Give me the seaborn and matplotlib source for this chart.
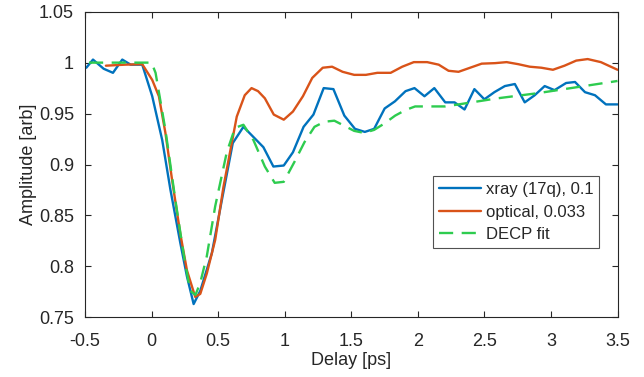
import numpy as np
import pandas as pd
import matplotlib
matplotlib.use("Agg")
import matplotlib.pyplot as plt
import seaborn as sns

xray_x = [-0.49, -0.44, -0.36, -0.29, -0.22, -0.157, -0.07, 0.005, 0.08, 0.142, 0.216, 0.266,
          0.316, 0.366, 0.453, 0.528, 0.61, 0.69, 0.84, 0.915, 0.993, 1.062, 1.142, 1.216,
          1.293, 1.366, 1.448, 1.528, 1.602, 1.672, 1.751, 1.828, 1.908, 1.975, 2.05, 2.124,
          2.206, 2.276, 2.351, 2.425, 2.5, 2.575, 2.654, 2.729, 2.803, 2.878, 2.953, 3.027,
          3.114, 3.181, 3.256, 3.331, 3.413, 3.5]
xray_y = [0.995, 1.003, 0.994, 0.990, 1.003, 0.998, 0.998, 0.967, 0.924, 0.875, 0.823, 0.790,
          0.763, 0.776, 0.813, 0.865, 0.921, 0.937, 0.917, 0.898, 0.899, 0.912, 0.937, 0.949,
          0.975, 0.974, 0.948, 0.935, 0.932, 0.935, 0.955, 0.962, 0.972, 0.975, 0.967, 0.975,
          0.961, 0.961, 0.954, 0.974, 0.964, 0.971, 0.977, 0.979, 0.961, 0.968, 0.977, 0.973,
          0.980, 0.981, 0.971, 0.968, 0.959, 0.959]

opt_x = [-0.343, -0.2, -0.07, 0.005, 0.055, 0.104, 0.154, 0.216, 0.266, 0.328, 0.366, 0.415,
         0.478, 0.54, 0.64, 0.70, 0.751, 0.80, 0.851, 0.918, 0.993, 1.062, 1.137, 1.207,
         1.286, 1.356, 1.435, 1.522, 1.61, 1.696, 1.796, 1.883, 1.97, 2.07, 2.157, 2.231,
         2.306, 2.393, 2.48, 2.58, 2.667, 2.754, 2.841, 2.928, 3.015, 3.102, 3.19, 3.276,
         3.375, 3.475, 3.5]
opt_y = [0.997, 0.998, 0.9985, 0.983, 0.967, 0.931, 0.885, 0.832, 0.796, 0.770, 0.773, 0.793,
         0.826, 0.878, 0.947, 0.968, 0.975, 0.972, 0.965, 0.949, 0.944, 0.952, 0.967, 0.985,
         0.995, 0.996, 0.991, 0.988, 0.988, 0.990, 0.990, 0.996, 1.0005, 1.0005, 0.998, 0.992,
         0.991, 0.995, 0.999, 0.9995, 1.0005, 0.9985, 0.996, 0.995, 0.993, 0.997, 1.002, 1.0035,
         1.0005, 0.9945, 0.993]

fit_x = [-0.47, 0.0, 0.03, 0.104, 0.179, 0.241, 0.29, 0.33, 0.366, 0.415, 0.478, 0.565,
         0.627, 0.69, 0.765, 0.851, 0.925, 0.993, 1.075, 1.149, 1.224, 1.299, 1.373, 1.448,
         1.522, 1.597, 1.672, 1.746, 1.83, 1.908, 1.98, 2.08, 2.206, 2.306, 2.6, 2.9, 3.2, 3.5]
fit_y = [1.0, 1.0, 0.99, 0.934, 0.865, 0.812, 0.776, 0.772, 0.784, 0.810, 0.859, 0.912,
         0.936, 0.939, 0.924, 0.898, 0.882, 0.883, 0.903, 0.922, 0.937, 0.942, 0.943, 0.938,
         0.933, 0.931, 0.934, 0.940, 0.948, 0.9535, 0.957, 0.957, 0.957, 0.959, 0.965, 0.970, 0.976, 0.982]

x_ticks = [-0.5, 0, 0.5, 1, 1.5, 2, 2.5, 3, 3.5]
x_ticklabels = ["-0.5", "0", "0.5", "1", "1.5", "2", "2.5", "3", "3.5"]
y_ticks = [0.75, 0.8, 0.85, 0.9, 0.95, 1.0, 1.05]
y_ticklabels = ["0.75", "0.8", "0.85", "0.9", "0.95", "1", "1.05"]

sns.set_style("ticks")
plt.rcParams['font.family'] = ['Liberation Sans', 'DejaVu Sans']

W, H = 644, 377
L, R, T, B = 85, 617.5, 11.7, 317.3
fig = plt.figure(figsize=(W/100, H/100), dpi=100)
ax = fig.add_axes([L/W, 1 - B/H, (R-L)/W, (B-T)/H])

df_x = pd.DataFrame({"t": xray_x, "a": xray_y})
df_o = pd.DataFrame({"t": opt_x, "a": opt_y})
df_f = pd.DataFrame({"t": fit_x, "a": fit_y})

lw = 1.7
sns.lineplot(data=df_x, x="t", y="a", ax=ax, color="#0072BD", lw=lw, sort=False,
             estimator=None, label="xray (17q), 0.1")
sns.lineplot(data=df_o, x="t", y="a", ax=ax, color="#D95319", lw=lw, sort=False,
             estimator=None, label="optical, 0.033")
sns.lineplot(data=df_f, x="t", y="a", ax=ax, color="#2ECC4F", lw=lw, sort=False,
             estimator=None, label="DECP fit", linestyle=(0, (6.0, 3.6)))

ax.set_xlim(-0.5, 3.5)
ax.set_ylim(0.75, 1.05)
ax.set_xticks(x_ticks)
ax.set_xticklabels(x_ticklabels)
ax.set_yticks(y_ticks)
ax.set_yticklabels(y_ticklabels)
ax.set_xlabel("Delay [ps]", fontsize=13, color="#262626", labelpad=2)
ax.set_ylabel("Amplitude [arb]", fontsize=13, color="#262626", labelpad=1.5)
ax.tick_params(direction="in", top=True, right=True, length=4, width=0.8,
               labelsize=13, colors="#262626")
ax.tick_params(axis="x", pad=11)
ax.tick_params(axis="y", pad=8)
for s in ax.spines.values():
    s.set_visible(True)
    s.set_color("#262626")
    s.set_linewidth(0.8)

leg = ax.legend(loc="lower right", bbox_to_anchor=((599-L)/(R-L), (B-248)/(B-T)),
                fontsize=12, frameon=True, fancybox=False, edgecolor="#262626",
                handlelength=2.55, handletextpad=0.25, borderpad=0.35, labelspacing=0.45,
                borderaxespad=0)
leg.get_frame().set_linewidth(0.8)

fig.savefig("out.png", dpi=100)
